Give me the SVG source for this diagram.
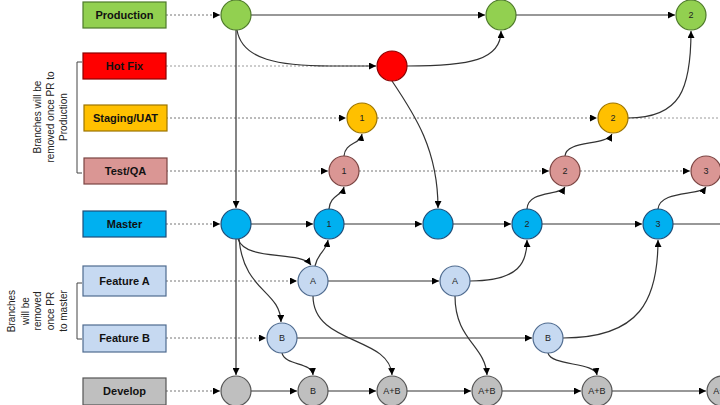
<svg xmlns="http://www.w3.org/2000/svg" width="720" height="405" viewBox="0 0 720 405">
<defs>
<marker id="ah" viewBox="0 0 10 10" refX="10" refY="5" markerWidth="7" markerHeight="7" orient="auto" markerUnits="userSpaceOnUse"><path d="M0,0 L10,5 L0,10 z" fill="#000"/></marker>
</defs>
<style>
.box{stroke-width:1.2}
.lbl{font-family:"Liberation Sans",Arial,sans-serif;font-size:11px;font-weight:bold;fill:#111;text-anchor:middle;dominant-baseline:central}
.num{font-family:"Liberation Sans",Arial,sans-serif;font-size:9px;fill:#222;text-anchor:middle;dominant-baseline:central}
.note{font-family:"Liberation Sans",Arial,sans-serif;font-size:10px;fill:#222;text-anchor:middle}
.dot{stroke:#9a9a9a;stroke-width:1;stroke-dasharray:2 2;fill:none}
.dotA{stroke:#777;stroke-width:1;stroke-dasharray:2 2;fill:none;marker-end:url(#ah)}
.c{stroke:#333;stroke-width:1.2;fill:none;marker-end:url(#ah)}
.cn{stroke:#333;stroke-width:1.2;fill:none}
.g{fill:#92D050;stroke:#4E7A2A;stroke-width:1.2}
.r{fill:#FF0000;stroke:#8B0000;stroke-width:1.2}
.o{fill:#FFC000;stroke:#9C7400;stroke-width:1.2}
.p{fill:#DA9694;stroke:#7A4442;stroke-width:1.2}
.b{fill:#00B0F0;stroke:#1F4E79;stroke-width:1.2}
.lb{fill:#C6D9F1;stroke:#4F6B8F;stroke-width:1.2}
.gr{fill:#BFBFBF;stroke:#555;stroke-width:1.2}
.br{stroke:#444;stroke-width:1;fill:none}
</style>

<g id="annotations">
<path class="br" d="M82,62 L77,62 L77,173 L82,173"/>
<text class="note" transform="translate(41,117) rotate(-90)">Branches will be</text>
<text class="note" transform="translate(54,117) rotate(-90)">removed once PR to</text>
<text class="note" transform="translate(67,117) rotate(-90)">Production</text>
<path class="br" d="M82,283 L77,283 L77,339 L82,339"/>
<text class="note" transform="translate(15,311) rotate(-90)">Branches</text>
<text class="note" transform="translate(29,311) rotate(-90)">will be</text>
<text class="note" transform="translate(41,311) rotate(-90)">removed</text>
<text class="note" transform="translate(54,311) rotate(-90)">once PR</text>
<text class="note" transform="translate(67,311) rotate(-90)">to master</text>
</g>

<g id="connectors">
<!-- dotted lane guides -->
<path class="dotA" d="M166,15 L220,15"/>
<path class="dot" d="M166,66 L376,66"/>
<path class="dotA" d="M166,118 L346,118"/>
<path class="dotA" d="M377,118 L597,118"/>
<path class="dot" d="M628,118 L720,118"/>
<path class="dotA" d="M166,171 L328,171"/>
<path class="dotA" d="M359,171 L549,171"/>
<path class="dotA" d="M580,171 L690,171"/>
<path class="dotA" d="M166,224 L220,224"/>
<path class="dotA" d="M166,281 L297,281"/>
<path class="dotA" d="M166,338 L266,338"/>
<path class="dotA" d="M166,391 L220,391"/>
<!-- production -->
<path class="c" d="M251,15 L485,15"/>
<path class="c" d="M516,15 L675,15"/>
<path class="c" d="M237,30 C242,60 280,66 330,66 L376,66"/>
<path class="c" d="M236,30 L236,208"/>
<path class="c" d="M407,66 C470,66 501,60 501,31"/>
<path class="c" d="M392,81 C415,115 438,150 438,208"/>
<!-- master -->
<path class="c" d="M251,224 L313,224"/>
<path class="c" d="M344,224 L422,224"/>
<path class="c" d="M453,224 L511,224"/>
<path class="c" d="M542,224 L642,224"/>
<path class="cn" d="M673,224 L720,224"/>
<path class="c" d="M236,239 L236,375"/>
<path class="c" d="M238,239 C246,262 300,250 311,265"/>
<path class="c" d="M239,239 C244,292 280,290 281,322"/>
<path class="c" d="M329,209 C330,195 342,196 344,187"/>
<path class="c" d="M344,156 C345,142 360,145 362,134"/>
<path class="c" d="M527,209 C528,190 560,196 565,187"/>
<path class="c" d="M565,156 C566,140 606,146 612,134"/>
<path class="c" d="M628,118 C680,118 691,90 691,31"/>
<path class="c" d="M658,209 C660,190 700,196 706,187"/>
<!-- feature A -->
<path class="c" d="M315,266 C318,252 326,252 328,240"/>
<path class="c" d="M328,281 L439,281"/>
<path class="c" d="M470,281 C520,281 527,262 527,240"/>
<path class="c" d="M313,296 C313,345 390,336 392,375"/>
<path class="c" d="M455,296 C455,340 485,345 487,375"/>
<!-- feature B -->
<path class="c" d="M297,338 L532,338"/>
<path class="c" d="M282,353 C285,366 312,362 313,375"/>
<path class="c" d="M563,338 C640,338 658,300 658,240"/>
<path class="c" d="M548,353 C551,366 595,362 597,375"/>
<!-- develop -->
<path class="c" d="M251,391 L297,391"/>
<path class="c" d="M328,391 L376,391"/>
<path class="c" d="M407,391 L471,391"/>
<path class="c" d="M502,391 L581,391"/>
<path class="c" d="M612,391 L706,391"/>
</g>

<g id="label-production"><rect class="box g" x="83" y="2" width="83" height="26"/><text class="lbl" x="124.5" y="15">Production</text></g>
<g id="label-hotfix"><rect class="box r" x="83" y="53" width="83" height="26"/><text class="lbl" x="124.5" y="66" fill="#300">Hot Fix</text></g>
<g id="label-staging"><rect class="box o" x="84" y="105" width="83" height="26"/><text class="lbl" x="125.5" y="118">Staging/UAT</text></g>
<g id="label-test"><rect class="box p" x="84" y="158" width="83" height="26"/><text class="lbl" x="125.5" y="171">Test/QA</text></g>
<g id="label-master"><rect class="box b" x="83" y="211" width="83" height="26"/><text class="lbl" x="124.5" y="224">Master</text></g>
<g id="label-featureA"><rect class="box lb" x="83" y="266" width="83" height="30"/><text class="lbl" x="124.5" y="281">Feature A</text></g>
<g id="label-featureB"><rect class="box lb" x="83" y="325" width="83" height="27"/><text class="lbl" x="124.5" y="338">Feature B</text></g>
<g id="label-develop"><rect class="box gr" x="83" y="378" width="83" height="27"/><text class="lbl" x="124.5" y="391">Develop</text></g>

<g id="prod-0"><circle class="g" cx="236" cy="15" r="15"/></g>
<g id="prod-1"><circle class="g" cx="501" cy="15" r="15"/></g>
<g id="prod-2"><circle class="g" cx="691" cy="15" r="15"/><text class="num" x="691" y="15">2</text></g>
<g id="hotfix-0"><circle class="r" cx="392" cy="66" r="15"/></g>
<g id="staging-1"><circle class="o" cx="362" cy="118" r="15"/><text class="num" x="362" y="118">1</text></g>
<g id="staging-2"><circle class="o" cx="613" cy="118" r="15"/><text class="num" x="613" y="118">2</text></g>
<g id="test-1"><circle class="p" cx="344" cy="171" r="15"/><text class="num" x="344" y="171">1</text></g>
<g id="test-2"><circle class="p" cx="565" cy="171" r="15"/><text class="num" x="565" y="171">2</text></g>
<g id="test-3"><circle class="p" cx="706" cy="171" r="15"/><text class="num" x="706" y="171">3</text></g>
<g id="master-0"><circle class="b" cx="236" cy="224" r="15"/></g>
<g id="master-1"><circle class="b" cx="329" cy="224" r="15"/><text class="num" x="329" y="224">1</text></g>
<g id="master-h"><circle class="b" cx="438" cy="224" r="15"/></g>
<g id="master-2"><circle class="b" cx="527" cy="224" r="15"/><text class="num" x="527" y="224">2</text></g>
<g id="master-3"><circle class="b" cx="658" cy="224" r="15"/><text class="num" x="658" y="224">3</text></g>
<g id="featureA-1"><circle class="lb" cx="313" cy="281" r="15"/><text class="num" x="313" y="281">A</text></g>
<g id="featureA-2"><circle class="lb" cx="455" cy="281" r="15"/><text class="num" x="455" y="281">A</text></g>
<g id="featureB-1"><circle class="lb" cx="282" cy="338" r="15"/><text class="num" x="282" y="338">B</text></g>
<g id="featureB-2"><circle class="lb" cx="548" cy="338" r="15"/><text class="num" x="548" y="338">B</text></g>
<g id="develop-0"><circle class="gr" cx="236" cy="391" r="15"/></g>
<g id="develop-B"><circle class="gr" cx="313" cy="391" r="15"/><text class="num" x="313" y="391">B</text></g>
<g id="develop-AB1"><circle class="gr" cx="392" cy="391" r="15"/><text class="num" x="392" y="391">A+B</text></g>
<g id="develop-AB2"><circle class="gr" cx="487" cy="391" r="15"/><text class="num" x="487" y="391">A+B</text></g>
<g id="develop-AB3"><circle class="gr" cx="597" cy="391" r="15"/><text class="num" x="597" y="391">A+B</text></g>
<g id="develop-AB4"><circle class="gr" cx="722" cy="391" r="15"/><text class="num" x="722" y="391">A+B</text></g>
</svg>
